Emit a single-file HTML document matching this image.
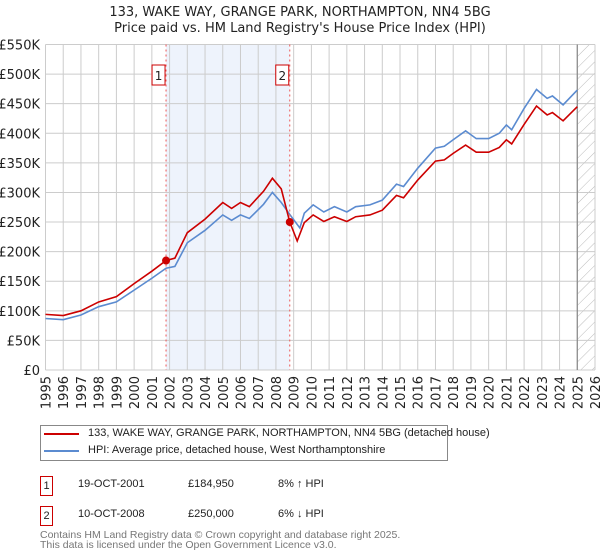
<!DOCTYPE html>
<html><head><meta charset="utf-8"><style>
body{margin:0;background:#fff;font-family:"DejaVu Sans","Liberation Sans",sans-serif;}
#wrap{position:relative;width:600px;height:560px;overflow:hidden}
svg text{font-family:"DejaVu Sans","Liberation Sans",sans-serif;}
.t{position:absolute;font-size:11px;color:#222;white-space:nowrap;font-family:"Liberation Sans",sans-serif}
</style></head><body><div id="wrap">
<svg id="c" width="600" height="560"></svg>
<div class="t" style="left:40px;top:425px;width:406px;height:34px;border:1px solid #888;"></div>
<div style="position:absolute;left:44px;top:433px;width:35px;height:2px;background:#cc0000"></div>
<div class="t" style="left:88px;top:427px;">133, WAKE WAY, GRANGE PARK, NORTHAMPTON, NN4 5BG (detached house)</div>
<div style="position:absolute;left:44px;top:450px;width:35px;height:2px;background:#5b8bd0"></div>
<div class="t" style="left:88px;top:444px;">HPI: Average price, detached house, West Northamptonshire</div>
<div class="t" style="left:40px;top:476px;width:11px;height:18px;border:1px solid #cc0000;text-align:center;line-height:18px">1</div>
<div class="t" style="left:78px;top:478px">19-OCT-2001</div>
<div class="t" style="left:188px;top:478px">£184,950</div>
<div class="t" style="left:278px;top:478px">8% ↑ HPI</div>
<div class="t" style="left:40px;top:506px;width:11px;height:18px;border:1px solid #cc0000;text-align:center;line-height:18px">2</div>
<div class="t" style="left:78px;top:508px">10-OCT-2008</div>
<div class="t" style="left:188px;top:508px">£250,000</div>
<div class="t" style="left:278px;top:508px">6% ↓ HPI</div>
<div class="t" style="left:40px;top:530px;color:#777;line-height:10px;font-size:10.5px">Contains HM Land Registry data © Crown copyright and database right 2025.<br>This data is licensed under the Open Government Licence v3.0.</div>
</div>
<script>
const hpiYears=[1995,1996,1997,1998,1999,2000,2001,2001.8,2002.3,2003,2004,2005,2005.5,2006,2006.5,2007.3,2007.8,2008.3,2008.8,2009.35,2009.6,2010.1,2010.7,2011.3,2012,2012.5,2013.3,2014,2014.8,2015.2,2016,2017,2017.5,2018,2018.7,2019.3,2020,2020.6,2021,2021.3,2022,2022.7,2023.3,2023.6,2024.2,2025];
const hpiValues=[87,85,93,107,115,135,155,172,175,215,236,262,253,262,256,280,300,283,262,240,265,279,267,276,267,276,279,287,314,310,341,375,378,389,404,391,391,400,414,406,442,474,459,463,448,473];
const redYears=[1995,1996,1997,1998,1999,2000,2001,2001.8,2002.3,2003,2004,2005,2005.5,2006,2006.5,2007.3,2007.8,2008.3,2008.78,2009.2,2009.6,2010.1,2010.7,2011.3,2012,2012.5,2013.3,2014,2014.8,2015.2,2016,2017,2017.5,2018,2018.7,2019.3,2020,2020.6,2021,2021.3,2022,2022.7,2023.3,2023.6,2024.2,2025];
const redValues=[94,92,100,115,124,146,167,185,189,232,255,283,273,283,276,302,324,306,250,218,249,262,251,259,251,259,262,270,295,291,321,353,355,366,380,368,368,376,389,382,415,446,431,435,421,445];
const sales=[[2001.8,184.95,"1"],[2008.78,250,"2"]];
const yTicks=[0,50,100,150,200,250,300,350,400,450,500,550];
const yLabels=["£0","£50K","£100K","£150K","£200K","£250K","£300K","£350K","£400K","£450K","£500K","£550K"];
const xTicks=[1995,1996,1997,1998,1999,2000,2001,2002,2003,2004,2005,2006,2007,2008,2009,2010,2011,2012,2013,2014,2015,2016,2017,2018,2019,2020,2021,2022,2023,2024,2025,2026];
const X0=45.5,X1=595,Y0=370,Y1=44.5;
const xs=y=>X0+(y-1995)/(2026-1995)*(X1-X0);
const ys=v=>Y0-v/550*(Y0-Y1);
const s=document.getElementById('c');const NS='http://www.w3.org/2000/svg';
function el(t,a,p){const e=document.createElementNS(NS,t);for(const k in a)e.setAttribute(k,a[k]);(p||s).appendChild(e);return e;}
let e;
e=el('text',{x:300,y:16,'text-anchor':'middle','font-size':13,fill:'#222'});e.textContent="133, WAKE WAY, GRANGE PARK, NORTHAMPTON, NN4 5BG";


e=el('text',{x:300,y:32,'text-anchor':'middle','font-size':13,fill:'#222'});e.textContent="Price paid vs. HM Land Registry's House Price Index (HPI)";


e=el('rect',{x:xs(sales[0][0]),y:Y1,width:xs(sales[1][0])-xs(sales[0][0]),height:Y0-Y1,fill:'#eef3fc'});


const defs=el('defs',{});const pat=el('pattern',{id:'h',width:8,height:8,patternUnits:'userSpaceOnUse',patternTransform:'rotate(45)'},defs);
el('line',{x1:0,y1:0,x2:0,y2:8,stroke:'#bbb','stroke-width':1},pat);
e=el('rect',{x:xs(2025),y:Y1,width:X1-xs(2025),height:Y0-Y1,fill:'url(#h)'});


yTicks.forEach((v,i)=>{
 e=el('line',{x1:X0,x2:X1,y1:ys(v),y2:ys(v),stroke:'#ccc'});
 
 
 e=el('text',{x:40,y:ys(v)+5,'text-anchor':'end','font-size':13,fill:'#222'});e.textContent=yLabels[i];
 
 
});
xTicks.forEach(y=>{
 e=el('line',{x1:xs(y),x2:xs(y),y1:Y1,y2:Y0,stroke:'#ccc'});
 
 
 e=el('text',{x:0,y:0,'text-anchor':'end','font-size':13,fill:'#222',transform:`translate(${xs(y)+5},${Y0+6}) rotate(-90)`});e.textContent=y;
 
 
});
e=el('line',{x1:xs(2025),x2:xs(2025),y1:Y1,y2:Y0,stroke:'#888','stroke-width':1.2});


function line(xa,va,c,n){e=el('polyline',{points:xa.map((x,i)=>xs(x)+','+ys(va[i])).join(' '),fill:'none',stroke:c,'stroke-width':1.6});
 
 }
line(hpiYears,hpiValues,'#5b8bd0','hpi-line');
line(redYears,redValues,'#cc0000','property-price-line');
sales.forEach(sl=>{
 e=el('line',{x1:xs(sl[0]),x2:xs(sl[0]),y1:Y1,y2:Y0,stroke:'#e55','stroke-dasharray':'2,3'});
 
 
 e=el('rect',{x:xs(sl[0])-14,y:65,width:13,height:20,fill:'#fff',stroke:'#cc0000'});
 
 
 e=el('text',{x:xs(sl[0])-7.5,y:80,'text-anchor':'middle','font-size':12,fill:'#222'});e.textContent=sl[2];
 
 
 e=el('circle',{cx:xs(sl[0]),cy:ys(sl[1]),r:4,fill:'#cc0000'});
 
 
});
</script></body></html>
